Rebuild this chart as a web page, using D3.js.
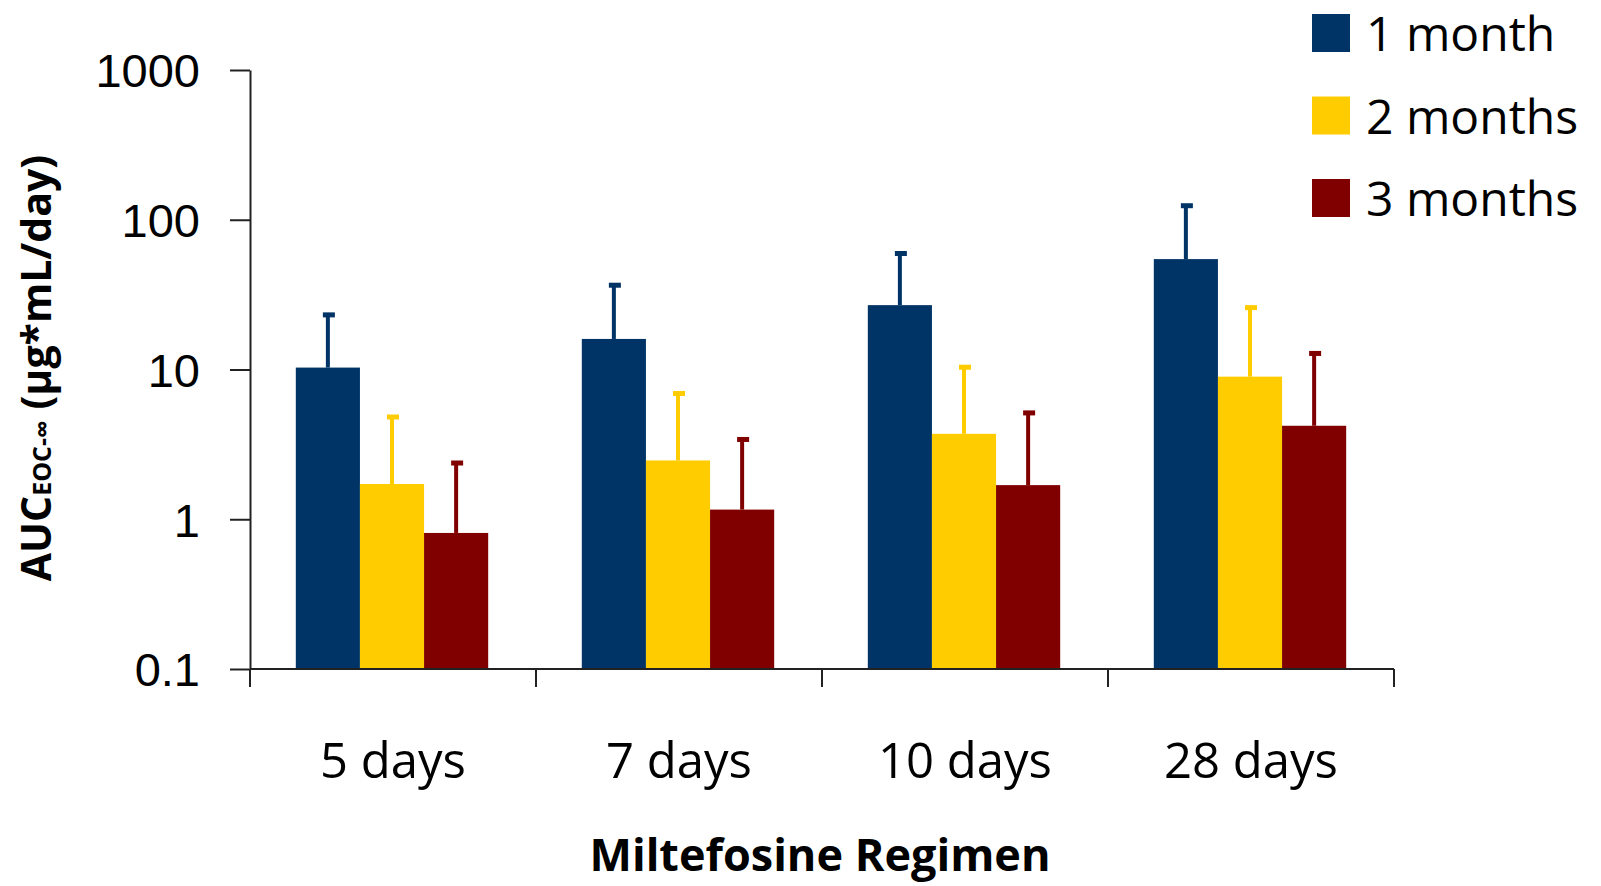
<!DOCTYPE html>
<html lang="en">
<head>
    <meta charset="UTF-8">
    <title>Miltefosine AUC</title>
    <script src="https://d3js.org/d3.v7.min.js"></script>
    <style>
        body { margin: 0; background: #fff; font-family: "Open Sans", sans-serif; }
        .axis path, .axis line { stroke: #222; stroke-width: 2; }
        .axis text { fill: #000; }
    </style>
</head>
<body>
    <div id="chart"></div>

    <script>
        // Data
        const categories = ["5 days", "7 days", "10 days", "28 days"];
        const series = ["1 month", "2 months", "3 months"];
        const colors = ["#003366", "#FFCC00", "#800000"];
        // means per series, in category order
        const means = [
            [10.3, 16.0, 26.9, 54.6],
            [1.72, 2.47, 3.72, 8.96],
            [0.81, 1.16, 1.69, 4.21]
        ];
        // upper end of error bar
        const upper = [
            [23.7, 37.4, 60.9, 127],
            [4.93, 7.08, 10.6, 26.5],
            [2.43, 3.49, 5.25, 13.1]
        ];
        const yTicks = [0.1, 1, 10, 100, 1000];

        const W = 1601, H = 886;
        const plot = { left: 250, right: 1394, top: 70, bottom: 669 };

        const svg = d3.select("#chart").append("svg")
            .attr("width", W).attr("height", H);

        const x0 = d3.scaleBand()
            .domain(categories)
            .range([plot.left, plot.right])
            .padding(0);

        const x1 = d3.scaleBand()
            .domain(series)
            .range([0, x0.bandwidth()])
            .paddingInner(0)
            .paddingOuter(0.73);

        const y = d3.scaleLog()
            .domain([0.1, 1000])
            .range([plot.bottom, plot.top]);

        const rows = [];
        series.forEach((s, si) => {
            categories.forEach((c, ci) => {
                rows.push({ s, si, c, v: means[si][ci], hi: upper[si][ci] });
            });
        });

        // Bars
        svg.append("g").selectAll("rect")
            .data(rows)
            .enter().append("rect")
            .attr("x", d => x0(d.c) + x1(d.s) - 1)
            .attr("y", d => y(d.v))
            .attr("width", x1.bandwidth())
            .attr("height", d => y(0.1) - y(d.v))
            .attr("fill", d => colors[d.si]);

        // Error bars (upper only)
        const err = svg.append("g");
        err.selectAll("line")
            .data(rows)
            .enter().append("line")
            .attr("x1", d => x0(d.c) + x1(d.s) + x1.bandwidth() / 2 - 1)
            .attr("x2", d => x0(d.c) + x1(d.s) + x1.bandwidth() / 2 - 1)
            .attr("y1", d => y(d.v))
            .attr("y2", d => y(d.hi))
            .attr("stroke", d => colors[d.si])
            .attr("stroke-width", 4);
        err.selectAll("rect")
            .data(rows)
            .enter().append("rect")
            .attr("x", d => x0(d.c) + x1(d.s) + x1.bandwidth() / 2 - 6)
            .attr("y", d => y(d.hi) - 1)
            .attr("width", 12)
            .attr("height", 5)
            .attr("fill", d => colors[d.si]);

        // Y axis
        svg.append("g")
            .attr("class", "axis")
            .attr("transform", `translate(${plot.left},0)`)
            .call(d3.axisLeft(y).tickValues(yTicks).tickFormat(d => String(d))
                .tickSize(20).tickSizeOuter(0).tickPadding(30))
            .selectAll("text")
            .style("font-size", "47px")
            .attr("dy", "0.36em");

        // X axis: line + tick marks at category boundaries
        const xAxis = svg.append("g").attr("class", "axis");
        xAxis.append("line")
            .attr("x1", plot.left).attr("x2", plot.right)
            .attr("y1", y(0.1)).attr("y2", y(0.1));
        const bounds = categories.map(c => x0(c)).concat([x0(categories[categories.length - 1]) + x0.bandwidth()]);
        xAxis.selectAll(".xt")
            .data(bounds)
            .enter().append("line")
            .attr("x1", d => d).attr("x2", d => d)
            .attr("y1", y(0.1)).attr("y2", y(0.1) + 18);

        svg.append("g").selectAll("text")
            .data(categories)
            .enter().append("text")
            .attr("x", d => x0(d) + x0.bandwidth() / 2)
            .attr("y", 778)
            .attr("text-anchor", "middle")
            .style("font-size", "49px")
            .text(d => d);

        // Axis titles
        svg.append("text")
            .attr("x", (plot.left + plot.right) / 2 - 2)
            .attr("y", 871)
            .attr("text-anchor", "middle")
            .style("font-size", "45px")
            .style("font-weight", "bold")
            .text("Miltefosine Regimen");

        const yt = svg.append("text")
            .attr("transform", "translate(51,368) rotate(-90)")
            .attr("text-anchor", "middle")
            .style("font-weight", "bold")
            .style("font-size", "41px");
        yt.append("tspan").text("AUC");
        yt.append("tspan").style("font-size", "25px").text("EOC-∞");
        yt.append("tspan").text(" (µg*mL/day)");

        // Legend
        const leg = svg.append("g").selectAll("g")
            .data(series)
            .enter().append("g")
            .attr("transform", (d, i) => `translate(1312,${14 + i * 82.5})`);
        leg.append("rect")
            .attr("width", 38).attr("height", 38)
            .attr("fill", (d, i) => colors[i]);
        leg.append("text")
            .attr("x", 54).attr("y", 37)
            .style("font-size", "48px")
            .text(d => d);
    </script>
</body>
</html>
